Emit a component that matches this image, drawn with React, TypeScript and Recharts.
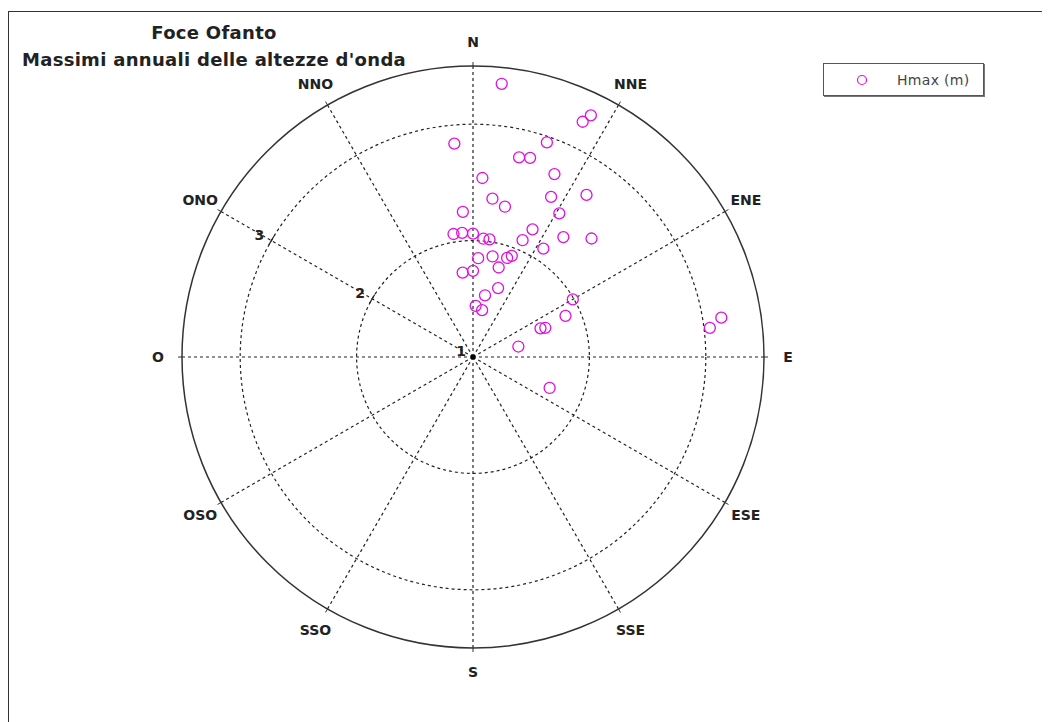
import {
  RadarChart,
  Radar,
  PolarGrid,
  PolarAngleAxis,
  PolarRadiusAxis,
  Legend,
} from "recharts";

// direzioni dei raggi (gradi da nord, senso orario) e relative etichette
const directions = [0, 30, 60, 90, 120, 150, 180, 210, 240, 270, 300, 330];
const directionLabels = ["N", "NNE", "ENE", "E", "ESE", "SSE", "S", "SSO", "OSO", "O", "ONO", "NNO"];

// scala radiale
const radiusTicks = [1, 2, 3];
const radiusLabels = ["1", "2", "3"];

// massimi annuali: direzione (gradi) e altezza d'onda (m)
const hmaxDir = [
  6, 25, 26, 355, 19, 13, 16, 24, 3, 26, 35, 7, 12, 31, 356, 25, 37, 45, 351, 355, 0, 5,
  8, 23, 33, 3, 11, 19, 21, 16, 353, 0, 20, 11, 3, 11, 60, 66, 67, 68, 77, 112, 83, 81,
];
const hmaxVal = [
  3.36, 3.23, 3.31, 2.84, 2.95, 2.76, 2.78, 2.72, 2.54, 2.53, 2.7, 2.37, 2.32, 2.44, 2.25,
  2.21, 2.29, 2.44, 2.07, 2.07, 2.06, 2.02, 2.02, 2.09, 2.11, 1.85, 1.88, 1.9, 1.93, 1.8,
  1.73, 1.74, 1.63, 1.54, 1.44, 1.41, 1.99, 1.87, 1.63, 1.67, 1.4, 1.71, 3.05, 3.16,
];

const data = hmaxDir.map((d, i) => ({ dir: d, hmax: hmaxVal[i] }));

const CX = 465;
const CY = 349;
const R = 291;
const MAGENTA = "#e010e0";
const FONT = "'DejaVu Sans', 'Liberation Sans', sans-serif";

const AngleTick = (props: any) => {
  const { x, y, index } = props;
  const dx = x - CX;
  const dy = y - CY;
  const d = Math.hypot(dx, dy) || 1;
  const k = 315 / d; // etichetta appena fuori dal cerchio
  return (
    <text
      x={CX + dx * k}
      y={CY + dy * k}
      textAnchor="middle"
      dominantBaseline="central"
      fontFamily={FONT}
      fontWeight="bold"
      fontSize={14}
      fill="#222"
    >
      {directionLabels[index]}
    </text>
  );
};

const RadiusTick = (props: any) => {
  const { x, y, index } = props;
  return (
    <g>
      {index === 0 ? (
        <circle cx={x} cy={y} r={2.5} fill="#000" />
      ) : (
        <line x1={x - 2.5} y1={y + 4.3} x2={x + 2.5} y2={y - 4.3} stroke="#222" strokeWidth={1.2} />
      )}
      <text
        x={x - 12}
        y={y - 6}
        textAnchor="middle"
        dominantBaseline="central"
        fontFamily={FONT}
        fontWeight="bold"
        fontSize={14}
        fill="#222"
      >
        {radiusLabels[index]}
      </text>
    </g>
  );
};

const LegendBox = () => (
  <div
    style={{
      width: 161,
      height: 33,
      border: "1px solid #555",
      boxShadow: "1px 1px 0 #777",
      background: "#fff",
      display: "flex",
      alignItems: "center",
      fontFamily: FONT,
      fontSize: 14,
      color: "#444",
      boxSizing: "border-box",
    }}
  >
    <svg width={60} height={20}>
      <circle cx={38} cy={10} r={4.5} fill="none" stroke={MAGENTA} strokeWidth={1.2} />
    </svg>
    <span style={{ marginLeft: 13, letterSpacing: 0.3 }}>Hmax (m)</span>
  </div>
);

export default function App() {
  return (
    <div style={{ position: "relative", width: 1042, height: 714, overflow: "hidden", fontFamily: FONT }}>
      {/* cornice */}
      <div
        style={{
          position: "absolute",
          left: 0,
          top: 3,
          width: 1100,
          height: 800,
          borderTop: "1.5px solid #333",
          borderLeft: "1.5px solid #333",
        }}
      />
      <div
        style={{
          position: "absolute",
          left: 0,
          width: 412,
          top: 11,
          textAlign: "center",
          fontWeight: "bold",
          fontSize: 18,
          letterSpacing: 0.3,
          lineHeight: "27px",
          color: "#222",
        }}
      >
        <div>Foce Ofanto</div>
        <div>Massimi annuali delle altezze d'onda</div>
      </div>
      <RadarChart
        width={1042}
        height={714}
        data={data}
        cx={CX}
        cy={CY}
        innerRadius={0}
        outerRadius={R}
        startAngle={90}
        endAngle={-270}
        style={{ position: "absolute", left: 0, top: 0 }}
      >
        <PolarGrid
          gridType="circle"
          stroke="#222"
          strokeDasharray="3 3"
          strokeWidth={1.2}
        />
        <PolarAngleAxis
          dataKey="dir"
          type="number"
          domain={[0, 360]}
          ticks={directions}
          tickSize={4}
          axisLine={{ stroke: "#333", strokeWidth: 1.5 }}
          axisLineType="circle"
          tickLine={{ stroke: "#333" }}
          tick={AngleTick}
        />
        <PolarRadiusAxis
          type="number"
          scale="linear"
          angle={150}
          domain={[1, 3.5]}
          allowDecimals
          tickCount={6}
          allowDataOverflow
          ticks={radiusTicks}
          axisLine={false}
          tick={RadiusTick}
        />
        <Radar
          dataKey="hmax"
          name="Hmax (m)"
          stroke="none"
          fill="none"
          isAnimationActive={false}
          dot={(p: any) => (
            <circle
              key={`p${p.index}`}
              cx={p.cx}
              cy={p.cy}
              r={5.5}
              fill="none"
              stroke={MAGENTA}
              strokeWidth={1.3}
            />
          )}
        />
        <Legend
          content={() => <LegendBox />}
          wrapperStyle={{ position: "absolute", left: 815, top: 55, width: 161 }}
        />
      </RadarChart>
    </div>
  );
}
